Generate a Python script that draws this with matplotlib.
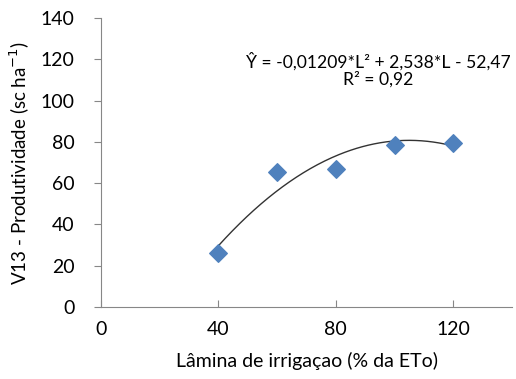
import matplotlib.pyplot as plt
import numpy as np

plt.rcParams['font.family'] = ['Lato', 'DejaVu Sans']

# dados
lamina = [40, 60, 80, 100, 120]
produtividade = [26, 65.5, 67, 78.5, 79.5]

# coeficientes da regressao quadratica
a, b, c = -0.01209, 2.538, -52.47

fig = plt.figure(figsize=(5.16, 3.79), dpi=100)
ax = fig.add_axes([0.196, 0.19, 0.796, 0.7625])

xs = np.linspace(min(lamina), max(lamina), 200)
ax.plot(xs, a * xs**2 + b * xs + c, color="#333333", linewidth=1.0, zorder=2)
ax.scatter(lamina, produtividade, marker="D", s=80, color="#4F81BD", zorder=3)

ax.set_xlim(0, 140)
ax.set_ylim(0, 140)
ax.set_xticks([0, 40, 80, 120])
ax.set_yticks(range(0, 141, 20))

for s in ["top", "right"]:
    ax.spines[s].set_visible(False)
for s in ["left", "bottom"]:
    ax.spines[s].set_color("#878787")
    ax.spines[s].set_linewidth(0.8)

ax.tick_params(axis="x", direction="in", length=5, color="#878787", labelsize=14, pad=10)
ax.tick_params(axis="y", direction="out", length=5, color="#878787", labelsize=14, pad=14)

ax.set_xlabel("Lâmina de irrigaçao (% da ETo)", fontsize=14, labelpad=10)
ax.set_ylabel("V13 - Produtividade (sc ha$^{-1}$)", fontsize=13.5, labelpad=6)

ax.text(0.675, 0.82, "Ŷ = -0,01209*L² + 2,538*L - 52,47\nR² = 0,92",
        transform=ax.transAxes, ha="center", va="center", fontsize=12.6,
        linespacing=1.1)

fig.savefig("out.png", dpi=100)
